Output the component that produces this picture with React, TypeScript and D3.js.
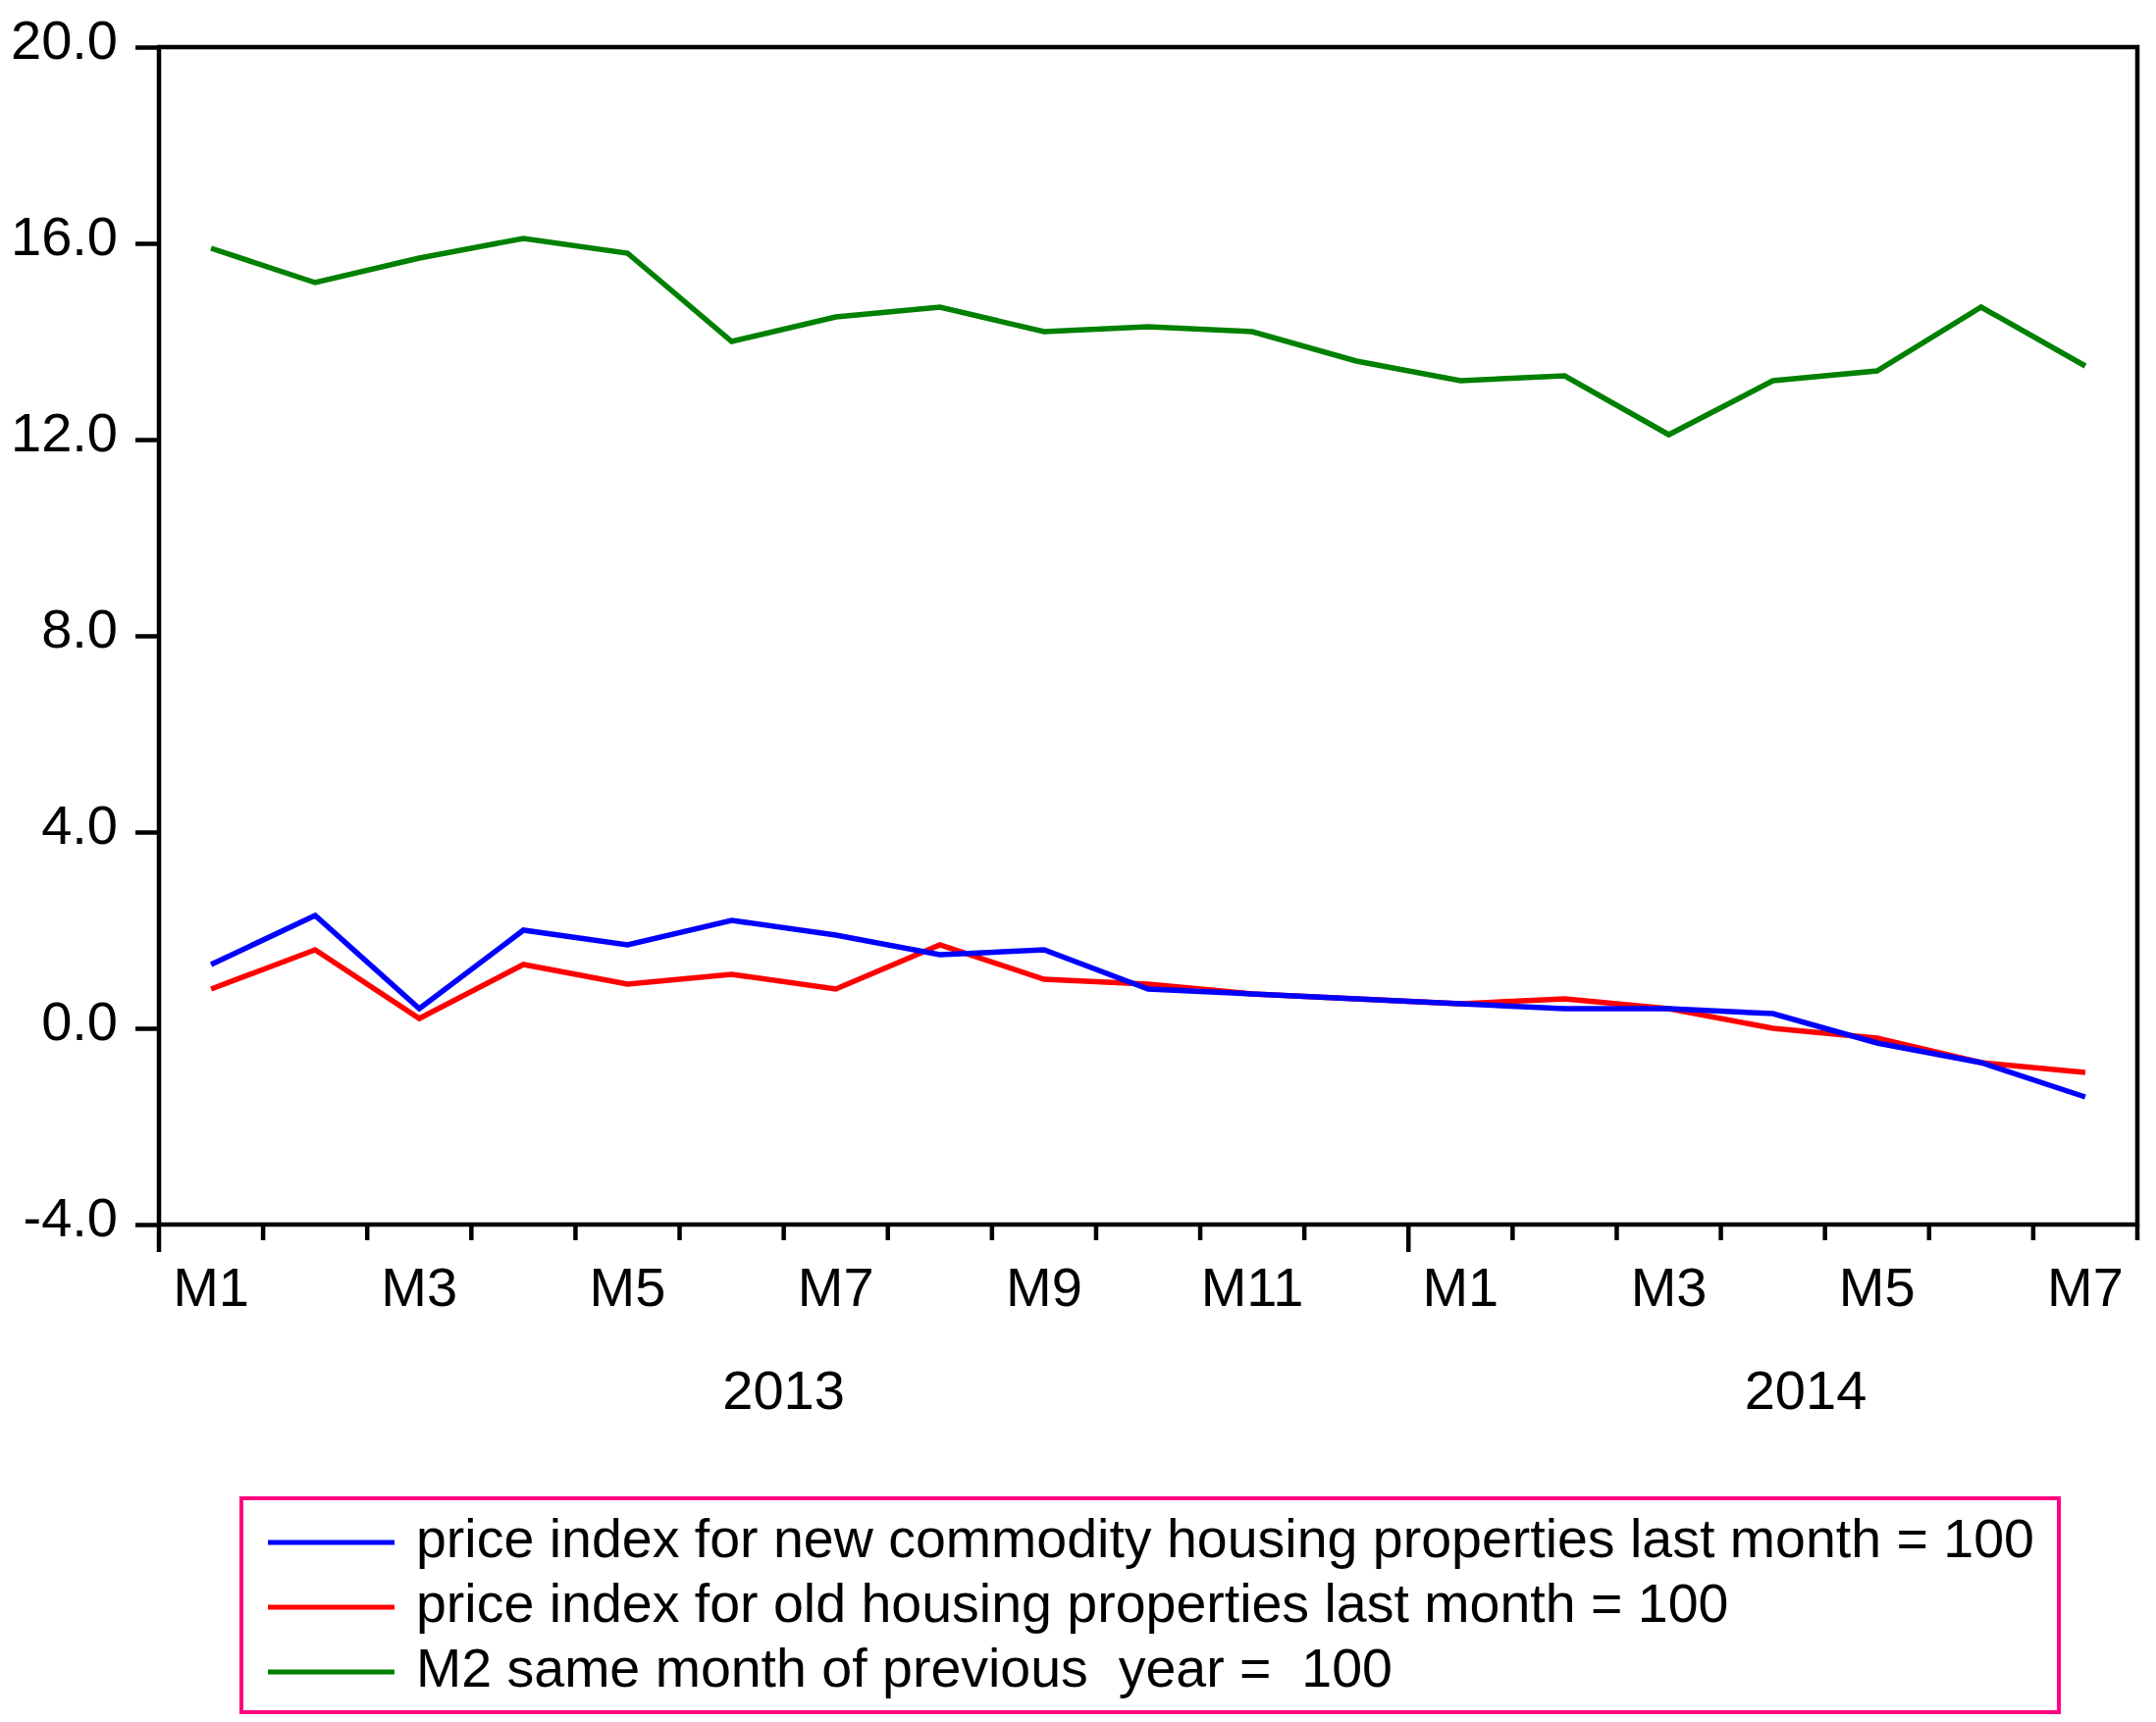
import { useEffect, useRef } from 'react'
import * as d3 from 'd3'

// months shown on the x axis (2013 M1 .. 2014 M7)
const years = ['2013', '2014']
const monthLabels = [
  'M1', 'M2', 'M3', 'M4', 'M5', 'M6', 'M7', 'M8', 'M9', 'M10', 'M11', 'M12',
  'M1', 'M2', 'M3', 'M4', 'M5', 'M6', 'M7'
]
const monthYear = [0, 0, 0, 0, 0, 0, 0, 0, 0, 0, 0, 0, 1, 1, 1, 1, 1, 1, 1]

const newHousing = [1.3, 2.3, 0.4, 2.0, 1.7, 2.2, 1.9, 1.5, 1.6, 0.8, 0.7, 0.6, 0.5, 0.4, 0.4, 0.3, -0.3, -0.7, -1.4]
const oldHousing = [0.8, 1.6, 0.2, 1.3, 0.9, 1.1, 0.8, 1.7, 1.0, 0.9, 0.7, 0.6, 0.5, 0.6, 0.4, 0.0, -0.2, -0.7, -0.9]
const m2 = [15.9, 15.2, 15.7, 16.1, 15.8, 14.0, 14.5, 14.7, 14.2, 14.3, 14.2, 13.6, 13.2, 13.3, 12.1, 13.2, 13.4, 14.7, 13.5]

const yTicks = [-4, 0, 4, 8, 12, 16, 20]

const seriesNames = [
  'price index for new commodity housing properties last month = 100',
  'price index for old housing properties last month = 100',
  'M2 same month of previous  year =  100'
]
const seriesColors = ['#0000ff', '#ff0000', '#008000']

export default function App() {
  const svgRef = useRef<SVGSVGElement>(null)

  useEffect(() => {
    if (!svgRef.current) return
    document.body.style.margin = '0'

    const width = 2197
    const height = 1755
    const left = 162
    const right = 2178
    const top = 48
    const bottom = 1248
    const font = 'Liberation Sans, Arial, sans-serif'
    const fontSize = 56

    const svg = d3.select(svgRef.current)
    svg.selectAll('*').remove()
    svg.attr('width', width).attr('height', height)

    svg.append('rect').attr('width', width).attr('height', height).attr('fill', 'white')

    const x = d3.scaleBand<number>()
      .domain(d3.range(monthLabels.length))
      .range([left, right])
      .paddingInner(0)
      .paddingOuter(0)
    const bw = x.bandwidth()
    const cx = (i: number) => (x(i) as number) + bw / 2

    const y = d3.scaleLinear().domain([-4, 20]).range([bottom, top])

    // y axis ticks + labels (plain hyphen for minus, like the original)
    const yAxis = d3.axisLeft(y)
      .tickValues(yTicks)
      .tickSize(24)
      .tickPadding(18)
      .tickFormat(d => (d as number).toFixed(1))

    const ya = svg.append('g')
      .attr('transform', `translate(${left},0)`)
      .call(yAxis)
    ya.select('.domain').remove()
    ya.selectAll('line').attr('stroke', 'black').attr('stroke-width', 4.5)
    ya.selectAll('text')
      .attr('font-family', font)
      .attr('font-size', fontSize)
      .attr('fill', 'black')
      .attr('dy', '0.2em')

    // x axis tick marks at month boundaries
    const bounds = d3.range(monthLabels.length + 1)
    svg.append('g')
      .selectAll('line')
      .data(bounds)
      .enter().append('line')
      .attr('x1', d => left + d * bw)
      .attr('x2', d => left + d * bw)
      .attr('y1', bottom)
      .attr('y2', d => (d < monthLabels.length && (d === 0 || monthYear[d] !== monthYear[d - 1])) ? bottom + 28 : bottom + 16)
      .attr('stroke', 'black')
      .attr('stroke-width', 4.5)

    // month labels (odd months)
    svg.append('g')
      .selectAll('text')
      .data(monthLabels.map((m, i) => ({ m, i })).filter(d => d.i % 2 === 0))
      .enter().append('text')
      .attr('x', d => cx(d.i))
      .attr('y', 1331)
      .attr('text-anchor', 'middle')
      .attr('font-family', font)
      .attr('font-size', fontSize)
      .text(d => d.m)

    // year labels
    const yearPos = years.map((yr, k) => {
      const idx = monthYear.map((v, i) => v === k ? i : -1).filter(i => i >= 0)
      return { yr, first: idx[0], last: idx[idx.length - 1] }
    })
    svg.append('g')
      .selectAll('text')
      .data(yearPos)
      .enter().append('text')
      .attr('x', (d, k) => k === 0 ? (x(d.first) as number + (x(d.last) as number) + bw) / 2 : 1840)
      .attr('y', 1436)
      .attr('text-anchor', 'middle')
      .attr('font-family', font)
      .attr('font-size', fontSize)
      .text(d => d.yr)

    // lines
    const line = d3.line<number>()
      .x((_, i) => cx(i))
      .y(d => y(d))

    const allSeries = [newHousing, oldHousing, m2]
    // green first, then red, then blue on top
    const order = [2, 1, 0]
    order.forEach(s => {
      svg.append('path')
        .datum(allSeries[s])
        .attr('fill', 'none')
        .attr('stroke', seriesColors[s])
        .attr('stroke-width', 5.5)
        .attr('stroke-linejoin', 'miter')
        .attr('d', line)
    })

    // frame
    svg.append('rect')
      .attr('x', left)
      .attr('y', top)
      .attr('width', right - left)
      .attr('height', bottom - top)
      .attr('fill', 'none')
      .attr('stroke', 'black')
      .attr('stroke-width', 4.5)

    // legend
    const legend = svg.append('g')
    legend.append('rect')
      .attr('x', 246)
      .attr('y', 1527)
      .attr('width', 2098 - 246)
      .attr('height', 1745 - 1527)
      .attr('fill', 'none')
      .attr('stroke', '#ff0080')
      .attr('stroke-width', 4)

    seriesNames.forEach((name, i) => {
      const ry = 1572 + i * 66
      legend.append('line')
        .attr('x1', 273)
        .attr('x2', 402)
        .attr('y1', ry)
        .attr('y2', ry)
        .attr('stroke', seriesColors[i])
        .attr('stroke-width', 5)
      legend.append('text')
        .attr('x', 424)
        .attr('y', ry + 15)
        .attr('font-family', font)
        .attr('font-size', 55.5)
        .style('white-space', 'pre')
        .text(name)
    })
  }, [])

  return <svg ref={svgRef} style={{ display: 'block' }} />
}
